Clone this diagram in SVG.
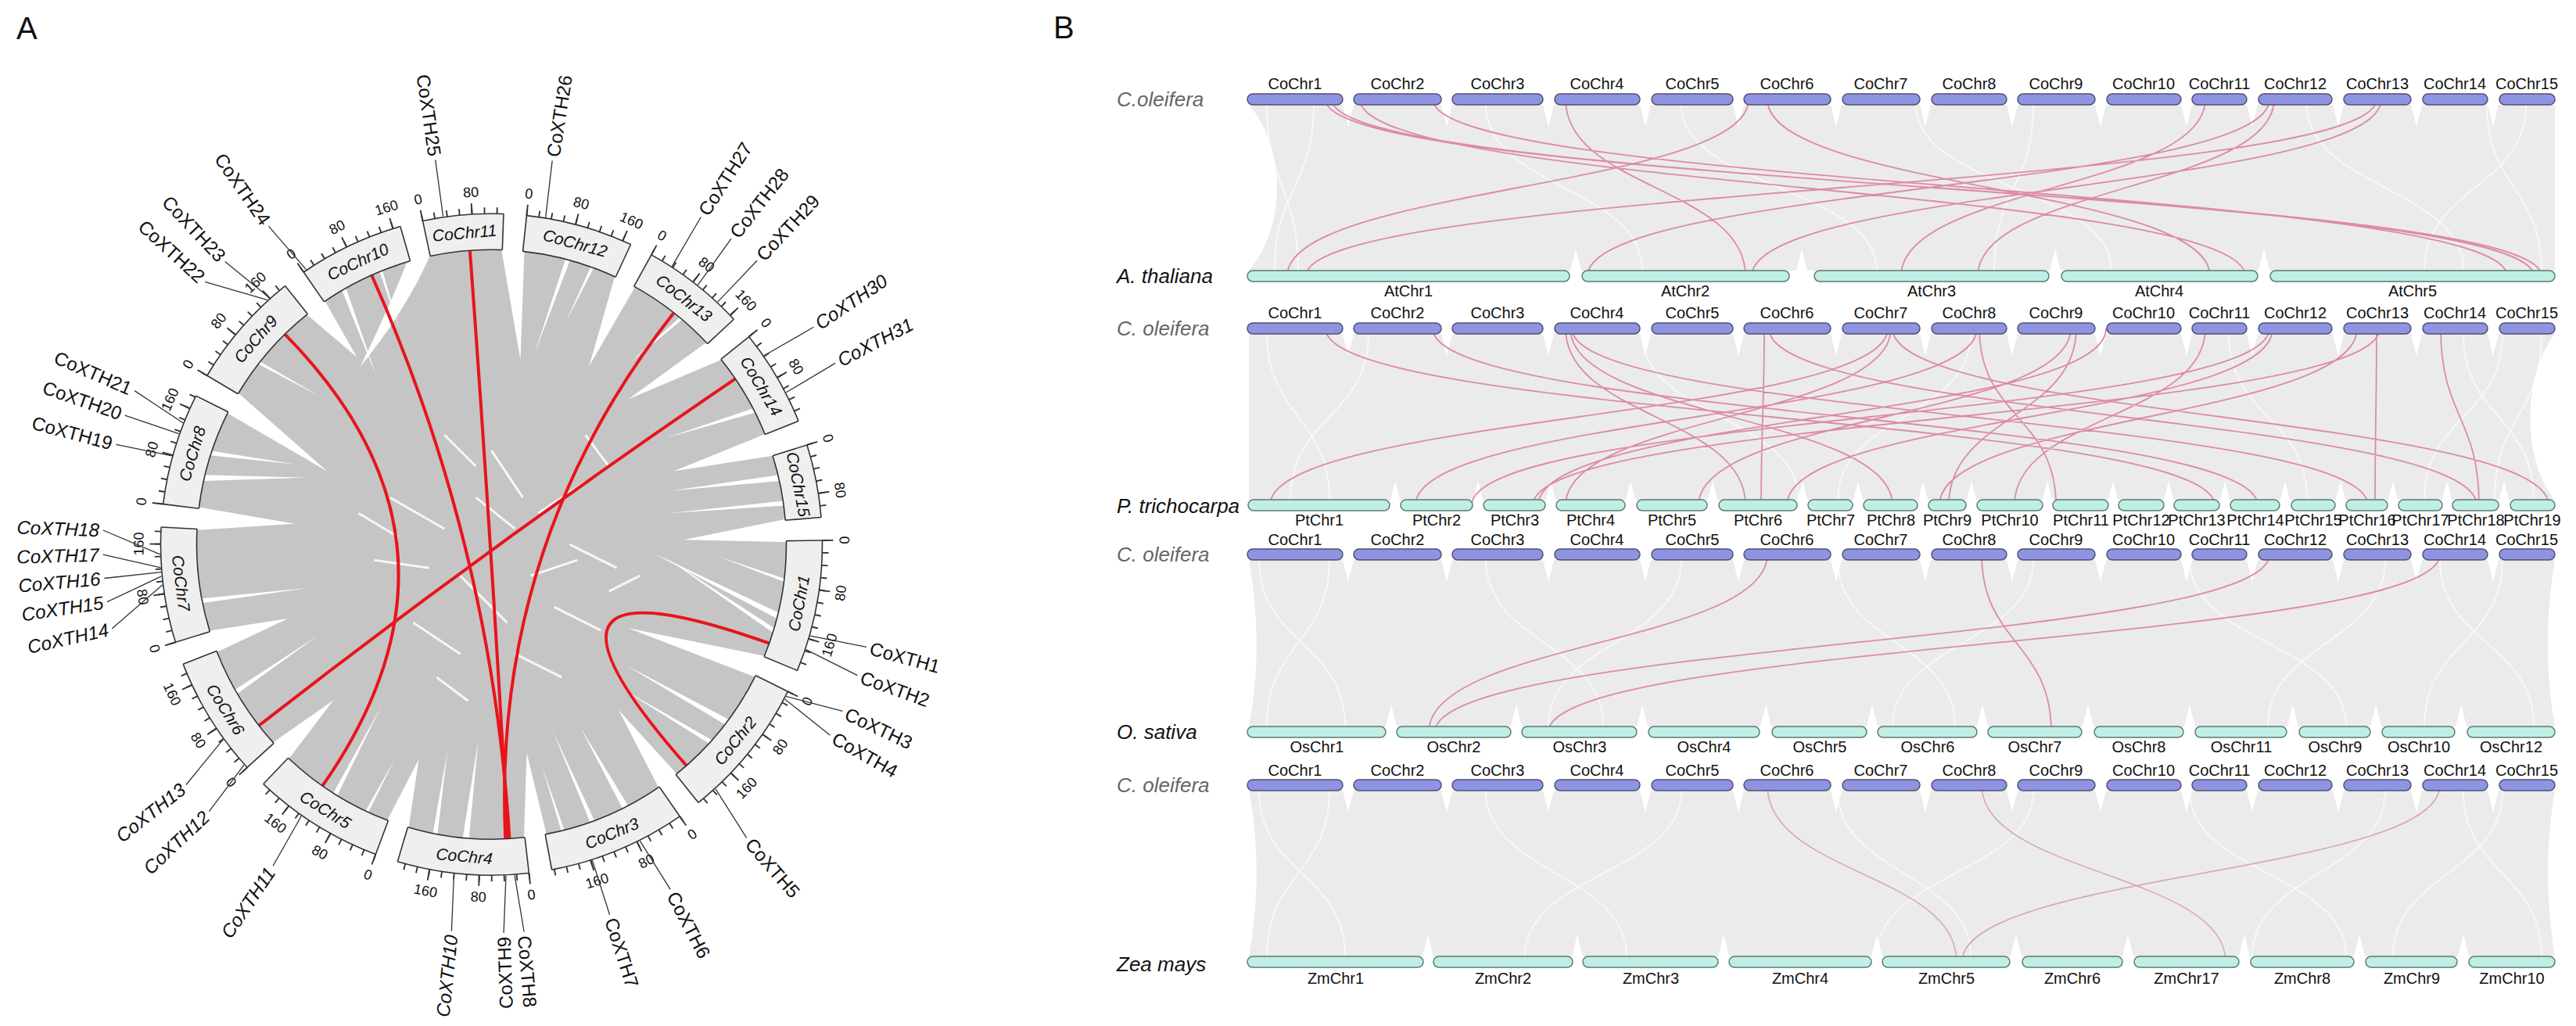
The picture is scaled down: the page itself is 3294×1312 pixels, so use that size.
<svg xmlns="http://www.w3.org/2000/svg" width="3294" height="1312" viewBox="0 0 3294 1312">
<style>
text{font-family:"Liberation Sans",Arial,sans-serif;fill:#111}
.bx{fill:none;stroke:#efefef;stroke-width:46}
.ed{fill:none;stroke:#333;stroke-width:1.6}
.tk{fill:none;stroke:#333;stroke-width:8}
.tkm{fill:none;stroke:#333;stroke-width:14}
.t{font-size:18px;text-anchor:middle;dominant-baseline:central}
.c{font-size:21px;font-style:italic;text-anchor:middle;dominant-baseline:central}
.g{font-size:24px;dominant-baseline:central}
.gr{text-anchor:start}
.gl{text-anchor:end}
.it{font-style:italic}
.ld{stroke:#333;stroke-width:1.3;fill:none}
.red{fill:none;stroke:#e8141c;stroke-width:4}
.wg{fill:#fff}
.wl{fill:none;stroke:#fff;stroke-width:3;opacity:.85}
.band{fill:#ebebeb}
.tex{fill:none;stroke:#fff;stroke-width:2;opacity:.6}
.pk{fill:none;stroke:#dd8aab;stroke-width:1.8}
.pk2{fill:none;stroke:#d9a6b9;stroke-width:1.6}
.bco{fill:#8e93e2;stroke:#50506e;stroke-width:1.5}
.bcy{fill:#bfeee4;stroke:#5c7a74;stroke-width:1.5}
.bl{font-size:20px;text-anchor:middle}
.sp{font-size:26px;font-style:italic}
.spc{fill:#666}
.pl{font-size:40px}
</style>

<text class="pl" x="21" y="50">A</text>
<text class="pl" x="1347" y="49">B</text>

<g id="circos" transform="translate(628.5 696.2)">
  <g id="ribbons">
    <circle r="377" fill="#c5c5c5"/>
    <path class="wg" transform="rotate(87.3)" d="M-15 -380 L5.6 -245.9 L15 -380Z"/>
    <path class="wg" transform="rotate(114.4)" d="M-15 -380 L25.3 -203.4 L15 -380Z"/>
    <path class="wg" transform="rotate(143.3)" d="M-15 -380 L-3.7 -267 L15 -380Z"/>
    <path class="wg" transform="rotate(171.5)" d="M-15 -380 L-5.2 -270 L15 -380Z"/>
    <path class="wg" transform="rotate(198.5)" d="M-15 -380 L1 -290 L15 -380Z"/>
    <path class="wg" transform="rotate(225.6)" d="M-15 -380 L-1 -284 L15 -380Z"/>
    <path class="wg" transform="rotate(250.8)" d="M-15 -380 L-3.9 -277 L15 -380Z"/>
    <path class="wg" transform="rotate(275)" d="M-15 -380 L4.4 -253 L15 -380Z"/>
    <path class="wg" transform="rotate(298.7)" d="M-15 -380 L-18.8 -229 L15 -380Z"/>
    <path class="wg" transform="rotate(323.4)" d="M-15 -380 L4.6 -295 L15 -380Z"/>
    <path class="wg" transform="rotate(346)" d="M-15 -380 Q-50 -330 -108 -261 Q-30 -320 15 -380Z"/>
    <path class="wg" transform="rotate(4.1)" d="M-15 -380 L20 -238 L15 -380Z"/>
    <path class="wg" transform="rotate(26.9)" d="M-15 -380 L8.2 -260 L15 -380Z"/>
    <path class="wg" transform="rotate(49.1)" d="M-15 -380 L-25.8 -254 L15 -380Z"/>
    <path class="wg" transform="rotate(70.3)" d="M-15 -380 L-9.6 -251 L15 -380Z"/>
    <path class="wg" transform="rotate(283)" d="M-4 -378 L30 -250 L4 -378Z"/>
    <path class="wg" transform="rotate(288)" d="M-3 -378 L20 -270 L3 -378Z"/>
    <path class="wg" transform="rotate(259)" d="M-3 -378 L-10 -240 L3 -378Z"/>
    <path class="wg" transform="rotate(104)" d="M-4 -378 L-40 -200 L4 -378Z"/>
    <path class="wg" transform="rotate(107)" d="M-3 -378 L-50 -215 L3 -378Z"/>
    <path class="wg" transform="rotate(127)" d="M-4 -378 L20 -230 L4 -378Z"/>
    <path class="wg" transform="rotate(132)" d="M-3 -378 L25 -250 L3 -378Z"/>
    <path class="wg" transform="rotate(153)" d="M-4 -378 L5 -260 L4 -378Z"/>
    <path class="wg" transform="rotate(160)" d="M-3 -378 L8 -250 L3 -378Z"/>
    <path class="wg" transform="rotate(185)" d="M-4 -378 L-5 -250 L4 -378Z"/>
    <path class="wg" transform="rotate(191)" d="M-3 -378 L5 -270 L3 -378Z"/>
    <path class="wg" transform="rotate(212)" d="M-3 -378 L10 -250 L3 -378Z"/>
    <path class="wg" transform="rotate(330)" d="M-3 -378 L-20 -260 L3 -378Z"/>
    <path class="wg" transform="rotate(15)" d="M-3 -378 L-10 -250 L3 -378Z"/>
    <path class="wg" transform="rotate(77)" d="M-4 -378 L-15 -240 L4 -378Z"/>
    <path class="wg" transform="rotate(82)" d="M-3 -378 L-8 -230 L3 -378Z"/>
    <path class="wg" transform="rotate(63)" d="M-3 -378 L-20 -260 L3 -378Z"/>
    <path class="wg" transform="rotate(240)" d="M-3 -378 L10 -250 L3 -378Z"/>
    <path class="wg" transform="rotate(166)" d="M-2 -378 L6 -290 L2 -378Z"/>
    <path class="wg" transform="rotate(205)" d="M-2 -378 L-4 -300 L2 -378Z"/>
    <path class="wg" transform="rotate(308)" d="M-2 -378 L14 -290 L2 -378Z"/>
    <path class="wg" transform="rotate(338)" d="M-2 -378 L-6 -300 L2 -378Z"/>
    <path class="wg" transform="rotate(20)" d="M-2 -378 L-8 -300 L2 -378Z"/>
    <path class="wg" transform="rotate(40)" d="M-2 -378 L-14 -290 L2 -378Z"/>
    <path class="wg" transform="rotate(97)" d="M-2 -378 L-20 -290 L2 -378Z"/>
    <path class="wl" d="M-130 -60 L-60 -20 M-40 40 L20 100 M60 -40 L120 -80 M80 80 L140 110 M-100 100 L-40 140 M0 -120 L40 -60 M-150 20 L-80 30 M100 0 L160 30 M-20 -60 L30 -20 M-60 -140 L-20 -100 M120 -140 L150 -100 M30 140 L90 170 M-170 -40 L-120 -10 M150 60 L190 40 M-70 170 L-30 200 M50 40 L110 20"/>
  </g>
  <g id="links">
    <path class="red" d="M-264.2 -268.9 Q0 0 -216.2 308.8"/>
    <path class="red" d="M-153.3 -344.4 Q0 0 23 376.3"/>
    <path class="red" d="M-27.6 -376 Q0 0 21 376.4"/>
    <path class="red" d="M233.1 -296.3 Q0 0 17.8 376.6"/>
    <path class="red" d="M311.8 -211.9 Q0 0 -297.5 231.6"/>
    <path class="red" d="M355.2 126.5 Q0 0 249.3 282.8"/>
  </g>

  <g id="chr1"><g transform="rotate(-0.7)"><circle r="400" class="bx" pathLength="360" stroke-dasharray="23.1 400"/><circle r="423" class="ed" pathLength="360" stroke-dasharray="23.1 400"/><circle r="377" class="ed" pathLength="360" stroke-dasharray="23.1 400"/></g><line class="ed" y1="-377" y2="-423" transform="rotate(89.3)"/><line class="ed" y1="-377" y2="-423" transform="rotate(112.4)"/>
    <circle r="427" class="tk" transform="rotate(-0.825)" pathLength="360" stroke-dasharray="0.25 1.91 0.25 1.91 0.25 1.91 0.25 1.91 0.25 1.91 0.25 1.91 0.25 1.91 0.25 1.91 0.25 1.91 0.25 1.91 0.25 400"/>
    <circle r="430" class="tkm" transform="rotate(-0.825)" pathLength="360" stroke-dasharray="0.25 8.39 0.25 8.39 0.25 400"/>
    <text class="t" transform="rotate(89.3) translate(0,-451)">0</text><text class="t" transform="rotate(97.94) translate(0,-451) rotate(180)">80</text><text class="t" transform="rotate(106.58) translate(0,-451) rotate(180)">160</text>
    <text class="c" transform="rotate(100.85) translate(0,-400) rotate(180)">CoChr1</text></g>

  <g id="chr2"><g transform="rotate(26.4)"><circle r="400" class="bx" pathLength="360" stroke-dasharray="24.9 400"/><circle r="423" class="ed" pathLength="360" stroke-dasharray="24.9 400"/><circle r="377" class="ed" pathLength="360" stroke-dasharray="24.9 400"/></g><line class="ed" y1="-377" y2="-423" transform="rotate(116.4)"/><line class="ed" y1="-377" y2="-423" transform="rotate(141.3)"/>
    <circle r="427" class="tk" transform="rotate(26.275)" pathLength="360" stroke-dasharray="0.25 1.91 0.25 1.91 0.25 1.91 0.25 1.91 0.25 1.91 0.25 1.91 0.25 1.91 0.25 1.91 0.25 1.91 0.25 1.91 0.25 1.91 0.25 400"/>
    <circle r="430" class="tkm" transform="rotate(26.275)" pathLength="360" stroke-dasharray="0.25 8.39 0.25 8.39 0.25 400"/>
    <text class="t" transform="rotate(116.4) translate(0,-451) rotate(180)">0</text><text class="t" transform="rotate(125.04) translate(0,-451) rotate(180)">80</text><text class="t" transform="rotate(133.68) translate(0,-451) rotate(180)">160</text>
    <text class="c" transform="rotate(128.85) translate(0,-400) rotate(180)">CoChr2</text></g>

  <g id="chr3"><g transform="rotate(55.3)"><circle r="400" class="bx" pathLength="360" stroke-dasharray="24.2 400"/><circle r="423" class="ed" pathLength="360" stroke-dasharray="24.2 400"/><circle r="377" class="ed" pathLength="360" stroke-dasharray="24.2 400"/></g><line class="ed" y1="-377" y2="-423" transform="rotate(145.3)"/><line class="ed" y1="-377" y2="-423" transform="rotate(169.5)"/>
    <circle r="427" class="tk" transform="rotate(55.175)" pathLength="360" stroke-dasharray="0.25 1.91 0.25 1.91 0.25 1.91 0.25 1.91 0.25 1.91 0.25 1.91 0.25 1.91 0.25 1.91 0.25 1.91 0.25 1.91 0.25 1.91 0.25 400"/>
    <circle r="430" class="tkm" transform="rotate(55.175)" pathLength="360" stroke-dasharray="0.25 8.39 0.25 8.39 0.25 400"/>
    <text class="t" transform="rotate(145.3) translate(0,-451) rotate(180)">0</text><text class="t" transform="rotate(153.94) translate(0,-451) rotate(180)">80</text><text class="t" transform="rotate(162.58) translate(0,-451) rotate(180)">160</text>
    <text class="c" transform="rotate(157.4) translate(0,-400) rotate(180)">CoChr3</text></g>

  <g id="chr4"><g transform="rotate(83.5)"><circle r="400" class="bx" pathLength="360" stroke-dasharray="23 400"/><circle r="423" class="ed" pathLength="360" stroke-dasharray="23 400"/><circle r="377" class="ed" pathLength="360" stroke-dasharray="23 400"/></g><line class="ed" y1="-377" y2="-423" transform="rotate(173.5)"/><line class="ed" y1="-377" y2="-423" transform="rotate(196.5)"/>
    <circle r="427" class="tk" transform="rotate(83.375)" pathLength="360" stroke-dasharray="0.25 1.91 0.25 1.91 0.25 1.91 0.25 1.91 0.25 1.91 0.25 1.91 0.25 1.91 0.25 1.91 0.25 1.91 0.25 1.91 0.25 400"/>
    <circle r="430" class="tkm" transform="rotate(83.375)" pathLength="360" stroke-dasharray="0.25 8.39 0.25 8.39 0.25 400"/>
    <text class="t" transform="rotate(173.5) translate(0,-451) rotate(180)">0</text><text class="t" transform="rotate(182.14) translate(0,-451) rotate(180)">80</text><text class="t" transform="rotate(190.78) translate(0,-451) rotate(180)">160</text>
    <text class="c" transform="rotate(185) translate(0,-400) rotate(180)">CoChr4</text></g>

  <g id="chr5"><g transform="rotate(110.5)"><circle r="400" class="bx" pathLength="360" stroke-dasharray="23.1 400"/><circle r="423" class="ed" pathLength="360" stroke-dasharray="23.1 400"/><circle r="377" class="ed" pathLength="360" stroke-dasharray="23.1 400"/></g><line class="ed" y1="-377" y2="-423" transform="rotate(200.5)"/><line class="ed" y1="-377" y2="-423" transform="rotate(223.6)"/>
    <circle r="427" class="tk" transform="rotate(110.375)" pathLength="360" stroke-dasharray="0.25 1.91 0.25 1.91 0.25 1.91 0.25 1.91 0.25 1.91 0.25 1.91 0.25 1.91 0.25 1.91 0.25 1.91 0.25 1.91 0.25 400"/>
    <circle r="430" class="tkm" transform="rotate(110.375)" pathLength="360" stroke-dasharray="0.25 8.39 0.25 8.39 0.25 400"/>
    <text class="t" transform="rotate(200.5) translate(0,-451) rotate(180)">0</text><text class="t" transform="rotate(209.14) translate(0,-451) rotate(180)">80</text><text class="t" transform="rotate(217.78) translate(0,-451) rotate(180)">160</text>
    <text class="c" transform="rotate(212.05) translate(0,-400) rotate(180)">CoChr5</text></g>

  <g id="chr6"><g transform="rotate(137.6)"><circle r="400" class="bx" pathLength="360" stroke-dasharray="21.2 400"/><circle r="423" class="ed" pathLength="360" stroke-dasharray="21.2 400"/><circle r="377" class="ed" pathLength="360" stroke-dasharray="21.2 400"/></g><line class="ed" y1="-377" y2="-423" transform="rotate(227.6)"/><line class="ed" y1="-377" y2="-423" transform="rotate(248.8)"/>
    <circle r="427" class="tk" transform="rotate(137.475)" pathLength="360" stroke-dasharray="0.25 1.91 0.25 1.91 0.25 1.91 0.25 1.91 0.25 1.91 0.25 1.91 0.25 1.91 0.25 1.91 0.25 1.91 0.25 400"/>
    <circle r="430" class="tkm" transform="rotate(137.475)" pathLength="360" stroke-dasharray="0.25 8.39 0.25 8.39 0.25 400"/>
    <text class="t" transform="rotate(227.6) translate(0,-451) rotate(180)">0</text><text class="t" transform="rotate(236.24) translate(0,-451) rotate(180)">80</text><text class="t" transform="rotate(244.88) translate(0,-451) rotate(180)">160</text>
    <text class="c" transform="rotate(238.2) translate(0,-400) rotate(180)">CoChr6</text></g>

  <g id="chr7"><g transform="rotate(162.8)"><circle r="400" class="bx" pathLength="360" stroke-dasharray="20.2 400"/><circle r="423" class="ed" pathLength="360" stroke-dasharray="20.2 400"/><circle r="377" class="ed" pathLength="360" stroke-dasharray="20.2 400"/></g><line class="ed" y1="-377" y2="-423" transform="rotate(252.8)"/><line class="ed" y1="-377" y2="-423" transform="rotate(273)"/>
    <circle r="427" class="tk" transform="rotate(162.675)" pathLength="360" stroke-dasharray="0.25 1.91 0.25 1.91 0.25 1.91 0.25 1.91 0.25 1.91 0.25 1.91 0.25 1.91 0.25 1.91 0.25 1.91 0.25 400"/>
    <circle r="430" class="tkm" transform="rotate(162.675)" pathLength="360" stroke-dasharray="0.25 8.39 0.25 8.39 0.25 400"/>
    <text class="t" transform="rotate(252.8) translate(0,-451) rotate(180)">0</text><text class="t" transform="rotate(261.44) translate(0,-451) rotate(180)">80</text><text class="t" transform="rotate(270.08) translate(0,-451)">160</text>
    <text class="c" transform="rotate(262.9) translate(0,-400) rotate(180)">CoChr7</text></g>

  <g id="chr8"><g transform="rotate(187)"><circle r="400" class="bx" pathLength="360" stroke-dasharray="19.7 400"/><circle r="423" class="ed" pathLength="360" stroke-dasharray="19.7 400"/><circle r="377" class="ed" pathLength="360" stroke-dasharray="19.7 400"/></g><line class="ed" y1="-377" y2="-423" transform="rotate(277)"/><line class="ed" y1="-377" y2="-423" transform="rotate(296.7)"/>
    <circle r="427" class="tk" transform="rotate(186.875)" pathLength="360" stroke-dasharray="0.25 1.91 0.25 1.91 0.25 1.91 0.25 1.91 0.25 1.91 0.25 1.91 0.25 1.91 0.25 1.91 0.25 1.91 0.25 400"/>
    <circle r="430" class="tkm" transform="rotate(186.875)" pathLength="360" stroke-dasharray="0.25 8.39 0.25 8.39 0.25 400"/>
    <text class="t" transform="rotate(277) translate(0,-451)">0</text><text class="t" transform="rotate(285.64) translate(0,-451)">80</text><text class="t" transform="rotate(294.28) translate(0,-451)">160</text>
    <text class="c" transform="rotate(286.85) translate(0,-400)">CoChr8</text></g>

  <g id="chr9"><g transform="rotate(210.7)"><circle r="400" class="bx" pathLength="360" stroke-dasharray="20.7 400"/><circle r="423" class="ed" pathLength="360" stroke-dasharray="20.7 400"/><circle r="377" class="ed" pathLength="360" stroke-dasharray="20.7 400"/></g><line class="ed" y1="-377" y2="-423" transform="rotate(300.7)"/><line class="ed" y1="-377" y2="-423" transform="rotate(321.4)"/>
    <circle r="427" class="tk" transform="rotate(210.575)" pathLength="360" stroke-dasharray="0.25 1.91 0.25 1.91 0.25 1.91 0.25 1.91 0.25 1.91 0.25 1.91 0.25 1.91 0.25 1.91 0.25 1.91 0.25 400"/>
    <circle r="430" class="tkm" transform="rotate(210.575)" pathLength="360" stroke-dasharray="0.25 8.39 0.25 8.39 0.25 400"/>
    <text class="t" transform="rotate(300.7) translate(0,-451)">0</text><text class="t" transform="rotate(309.34) translate(0,-451)">80</text><text class="t" transform="rotate(317.98) translate(0,-451)">160</text>
    <text class="c" transform="rotate(311.05) translate(0,-400)">CoChr9</text></g>

  <g id="chr10"><g transform="rotate(235.4)"><circle r="400" class="bx" pathLength="360" stroke-dasharray="18.6 400"/><circle r="423" class="ed" pathLength="360" stroke-dasharray="18.6 400"/><circle r="377" class="ed" pathLength="360" stroke-dasharray="18.6 400"/></g><line class="ed" y1="-377" y2="-423" transform="rotate(325.4)"/><line class="ed" y1="-377" y2="-423" transform="rotate(344)"/>
    <circle r="427" class="tk" transform="rotate(235.275)" pathLength="360" stroke-dasharray="0.25 1.91 0.25 1.91 0.25 1.91 0.25 1.91 0.25 1.91 0.25 1.91 0.25 1.91 0.25 1.91 0.25 400"/>
    <circle r="430" class="tkm" transform="rotate(235.275)" pathLength="360" stroke-dasharray="0.25 8.39 0.25 8.39 0.25 400"/>
    <text class="t" transform="rotate(325.4) translate(0,-451)">0</text><text class="t" transform="rotate(334.04) translate(0,-451)">80</text><text class="t" transform="rotate(342.68) translate(0,-451)">160</text>
    <text class="c" transform="rotate(334.7) translate(0,-400)">CoChr10</text></g>

  <g id="chr11"><g transform="rotate(258)"><circle r="400" class="bx" pathLength="360" stroke-dasharray="14.1 400"/><circle r="423" class="ed" pathLength="360" stroke-dasharray="14.1 400"/><circle r="377" class="ed" pathLength="360" stroke-dasharray="14.1 400"/></g><line class="ed" y1="-377" y2="-423" transform="rotate(348)"/><line class="ed" y1="-377" y2="-423" transform="rotate(362.1)"/>
    <circle r="427" class="tk" transform="rotate(257.875)" pathLength="360" stroke-dasharray="0.25 1.91 0.25 1.91 0.25 1.91 0.25 1.91 0.25 1.91 0.25 1.91 0.25 400"/>
    <circle r="430" class="tkm" transform="rotate(257.875)" pathLength="360" stroke-dasharray="0.25 8.39 0.25 400"/>
    <text class="t" transform="rotate(348) translate(0,-451)">0</text><text class="t" transform="rotate(356.64) translate(0,-451)">80</text>
    <text class="c" transform="rotate(355.05) translate(0,-400)">CoChr11</text></g>

  <g id="chr12"><g transform="rotate(-83.9)"><circle r="400" class="bx" pathLength="360" stroke-dasharray="18.8 400"/><circle r="423" class="ed" pathLength="360" stroke-dasharray="18.8 400"/><circle r="377" class="ed" pathLength="360" stroke-dasharray="18.8 400"/></g><line class="ed" y1="-377" y2="-423" transform="rotate(6.1)"/><line class="ed" y1="-377" y2="-423" transform="rotate(24.9)"/>
    <circle r="427" class="tk" transform="rotate(-84.025)" pathLength="360" stroke-dasharray="0.25 1.91 0.25 1.91 0.25 1.91 0.25 1.91 0.25 1.91 0.25 1.91 0.25 1.91 0.25 1.91 0.25 400"/>
    <circle r="430" class="tkm" transform="rotate(-84.025)" pathLength="360" stroke-dasharray="0.25 8.39 0.25 8.39 0.25 400"/>
    <text class="t" transform="rotate(6.1) translate(0,-451)">0</text><text class="t" transform="rotate(14.74) translate(0,-451)">80</text><text class="t" transform="rotate(23.38) translate(0,-451)">160</text>
    <text class="c" transform="rotate(15.5) translate(0,-400)">CoChr12</text></g>

  <g id="chr13"><g transform="rotate(-61.1)"><circle r="400" class="bx" pathLength="360" stroke-dasharray="18.2 400"/><circle r="423" class="ed" pathLength="360" stroke-dasharray="18.2 400"/><circle r="377" class="ed" pathLength="360" stroke-dasharray="18.2 400"/></g><line class="ed" y1="-377" y2="-423" transform="rotate(28.9)"/><line class="ed" y1="-377" y2="-423" transform="rotate(47.1)"/>
    <circle r="427" class="tk" transform="rotate(-61.225)" pathLength="360" stroke-dasharray="0.25 1.91 0.25 1.91 0.25 1.91 0.25 1.91 0.25 1.91 0.25 1.91 0.25 1.91 0.25 1.91 0.25 400"/>
    <circle r="430" class="tkm" transform="rotate(-61.225)" pathLength="360" stroke-dasharray="0.25 8.39 0.25 8.39 0.25 400"/>
    <text class="t" transform="rotate(28.9) translate(0,-451)">0</text><text class="t" transform="rotate(37.54) translate(0,-451)">80</text><text class="t" transform="rotate(46.18) translate(0,-451)">160</text>
    <text class="c" transform="rotate(38) translate(0,-400)">CoChr13</text></g>

  <g id="chr14"><g transform="rotate(-38.9)"><circle r="400" class="bx" pathLength="360" stroke-dasharray="17 400"/><circle r="423" class="ed" pathLength="360" stroke-dasharray="17 400"/><circle r="377" class="ed" pathLength="360" stroke-dasharray="17 400"/></g><line class="ed" y1="-377" y2="-423" transform="rotate(51.1)"/><line class="ed" y1="-377" y2="-423" transform="rotate(68.1)"/>
    <circle r="427" class="tk" transform="rotate(-39.025)" pathLength="360" stroke-dasharray="0.25 1.91 0.25 1.91 0.25 1.91 0.25 1.91 0.25 1.91 0.25 1.91 0.25 1.91 0.25 400"/>
    <circle r="430" class="tkm" transform="rotate(-39.025)" pathLength="360" stroke-dasharray="0.25 8.39 0.25 400"/>
    <text class="t" transform="rotate(51.1) translate(0,-451)">0</text><text class="t" transform="rotate(59.74) translate(0,-451)">80</text>
    <text class="c" transform="rotate(59.6) translate(0,-400)">CoChr14</text></g>

  <g id="chr15"><g transform="rotate(-17.5)"><circle r="400" class="bx" pathLength="360" stroke-dasharray="12.8 400"/><circle r="423" class="ed" pathLength="360" stroke-dasharray="12.8 400"/><circle r="377" class="ed" pathLength="360" stroke-dasharray="12.8 400"/></g><line class="ed" y1="-377" y2="-423" transform="rotate(72.5)"/><line class="ed" y1="-377" y2="-423" transform="rotate(85.3)"/>
    <circle r="427" class="tk" transform="rotate(-17.625)" pathLength="360" stroke-dasharray="0.25 1.91 0.25 1.91 0.25 1.91 0.25 1.91 0.25 1.91 0.25 400"/>
    <circle r="430" class="tkm" transform="rotate(-17.625)" pathLength="360" stroke-dasharray="0.25 8.39 0.25 400"/>
    <text class="t" transform="rotate(72.5) translate(0,-451)">0</text><text class="t" transform="rotate(81.14) translate(0,-451)">80</text>
    <text class="c" transform="rotate(78.9) translate(0,-400)">CoChr15</text></g>

  <g id="leaders">
    <path class="ld" d="M407.6 116.9 L479.4 131.2 M402.1 134.5 L467.9 167.5 M376.8 194.4 L448.9 213.2 M375.1 197.8 L433 244 M286.5 312.6 L326.1 375.1 M189.9 379.1 L228.7 441.2 M128.9 403.9 L151.1 473.5 M29.6 423 L41.6 495.3 M18.5 423.6 L15.6 496.8 M-48 421.3 L-51.1 494.4 M-243.2 347.3 L-279.4 411.1 M-316.6 282.1 L-361.1 341.5 M-343 249.2 L-390.6 307.3 M-420.8 51.7 L-485.2 107.6 M-422 40.6 L-491.5 73.5 M-422.5 35.5 L-495.1 43.3 M-423 29.6 L-496.9 13 M-423.8 12.6 L-496.7 -18.2 M-408.6 -113.3 L-480.3 -127.8 M-399.7 -141.5 L-468.8 -165.1 M-394.5 -155.4 L-456.4 -196.6 M-286.5 -312.6 L-366.4 -335.8 M-283.7 -315.1 L-340.8 -361.7 M-237.1 -351.5 L-285.1 -407.1 M-61.9 -419.5 L-71.8 -491.8 M69.2 -418.3 L77.7 -490.9 M230.9 -355.6 L267.8 -418.7 M263.9 -331.8 L306.6 -391.1 M289.2 -310.1 L339.6 -362.9 M348.6 -241.4 L412 -277.9 M376.8 -194.4 L439.6 -231.8"/>
  </g>
  <g id="genes">
    <text class="g gr" transform="rotate(105.3) translate(0,-502) rotate(-90)">CoXTH1</text>
    <text class="g gr" transform="rotate(109.7) translate(0,-502) rotate(-90)">CoXTH2</text>
    <text class="g gr" transform="rotate(115.4) translate(0,-502) rotate(-90)">CoXTH3</text>
    <text class="g gr" transform="rotate(119.4) translate(0,-502) rotate(-90)">CoXTH4</text>
    <text class="g gr" transform="rotate(139) translate(0,-502) rotate(-90)">CoXTH5</text>
    <text class="g gr" transform="rotate(152.6) translate(0,-502) rotate(-90)">CoXTH6</text>
    <text class="g gr" transform="rotate(162.3) translate(0,-502) rotate(-90)">CoXTH7</text>
    <text class="g gr" transform="rotate(175.2) translate(0,-502) rotate(-90)">CoXTH8</text>
    <text class="g gl" transform="rotate(178.2) translate(0,-502) rotate(90)">CoXTH9</text>
    <text class="g gl it" transform="rotate(185.9) translate(0,-502) rotate(90)">CoXTH10</text>
    <text class="g gl it" transform="rotate(214.2) translate(0,-502) rotate(90)">CoXTH11</text>
    <text class="g gl it" transform="rotate(226.6) translate(0,-502) rotate(90)">CoXTH12</text>
    <text class="g gl it" transform="rotate(231.8) translate(0,-502) rotate(90)">CoXTH13</text>
    <text class="g gl it" transform="rotate(257.5) translate(0,-502) rotate(90)">CoXTH14</text>
    <text class="g gl it" transform="rotate(261.5) translate(0,-502) rotate(90)">CoXTH15</text>
    <text class="g gl it" transform="rotate(265) translate(0,-502) rotate(90)">CoXTH16</text>
    <text class="g gl it" transform="rotate(268.5) translate(0,-502) rotate(90)">CoXTH17</text>
    <text class="g gl it" transform="rotate(272.1) translate(0,-502) rotate(90)">CoXTH18</text>
    <text class="g gl" transform="rotate(284.9) translate(0,-502) rotate(90)">CoXTH19</text>
    <text class="g gl" transform="rotate(289.4) translate(0,-502) rotate(90)">CoXTH20</text>
    <text class="g gl" transform="rotate(293.3) translate(0,-502) rotate(90)">CoXTH21</text>
    <text class="g gl" transform="rotate(312.5) translate(0,-502) rotate(90)">CoXTH22</text>
    <text class="g gl" transform="rotate(316.7) translate(0,-502) rotate(90)">CoXTH23</text>
    <text class="g gl" transform="rotate(325) translate(0,-502) rotate(90)">CoXTH24</text>
    <text class="g gl" transform="rotate(351.7) translate(0,-502) rotate(90)">CoXTH25</text>
    <text class="g gr" transform="rotate(9) translate(0,-502) rotate(-90)">CoXTH26</text>
    <text class="g gr" transform="rotate(32.6) translate(0,-502) rotate(-90)">CoXTH27</text>
    <text class="g gr" transform="rotate(38.1) translate(0,-502) rotate(-90)">CoXTH28</text>
    <text class="g gr" transform="rotate(43.1) translate(0,-502) rotate(-90)">CoXTH29</text>
    <text class="g gr it" transform="rotate(56) translate(0,-502) rotate(-90)">CoXTH30</text>
    <text class="g gr it" transform="rotate(62.2) translate(0,-502) rotate(-90)">CoXTH31</text>
  </g>
</g>

<g id="synteny">
  <g id="bands">
    <path class="band" d="M1597 134 H3267 V346 H1597 C1645 290 1645 190 1597 134Z"/>
    <path class="band" d="M1597 427 H3267 C3225 480 3225 590 3267 639 H1597Z"/>
    <path class="band" d="M1597 716 H3267 C3255 790 3255 860 3267 929 H1597 C1610 860 1610 790 1597 716Z"/>
    <path class="band" d="M1597 1011 H3267 C3255 1080 3255 1150 3267 1223 H1597 C1610 1150 1610 1080 1597 1011Z"/>
    <path class="tex" d="M1620 134 C1620 240 1660 240 1660 346 M1900 134 C1900 240 2100 240 2100 346 M2150 134 C2150 240 2400 240 2400 346 M2600 134 C2600 240 2550 240 2550 346 M2950 134 C2950 240 3150 240 3150 346 M3230 134 C3230 240 3100 240 3100 346 M3180 134 C3180 240 3250 240 3250 346 M1680 134 C1680 240 1630 240 1630 346 M2450 134 C2450 240 2700 240 2700 346"/>
    <path class="tex" d="M1620 427 C1620 533 1700 533 1700 639 M1750 427 C1750 533 1650 533 1650 639 M2100 427 C2100 533 2300 533 2300 639 M2520 427 C2520 533 2350 533 2350 639 M2850 427 C2850 533 2950 533 2950 639 M3200 427 C3200 533 3100 533 3100 639 M3150 427 C3150 533 3240 533 3240 639 M3250 427 C3250 533 3190 533 3190 639"/>
    <path class="tex" d="M1610 716 C1610 822 1720 822 1720 929 M1700 716 C1700 822 1620 822 1620 929 M1900 716 C1900 822 2050 822 2050 929 M2150 716 C2150 822 1980 822 1980 929 M2350 716 C2350 822 2500 822 2500 929 M2600 716 C2600 822 2420 822 2420 929 M2800 716 C2800 822 3000 822 3000 929 M3050 716 C3050 822 2900 822 2900 929 M3200 716 C3200 822 3100 822 3100 929 M3120 716 C3120 822 3240 822 3240 929"/>
    <path class="tex" d="M1610 1011 C1610 1117 1720 1117 1720 1223 M1700 1011 C1700 1117 1620 1117 1620 1223 M1900 1011 C1900 1117 2080 1117 2080 1223 M2150 1011 C2150 1117 1950 1117 1950 1223 M2350 1011 C2350 1117 2520 1117 2520 1223 M2600 1011 C2600 1117 2400 1117 2400 1223 M2800 1011 C2800 1117 3000 1117 3000 1223 M3050 1011 C3050 1117 2880 1117 2880 1223 M3200 1011 C3200 1117 3060 1117 3060 1223 M3150 1011 C3150 1117 3250 1117 3250 1223"/>
    <path class="wg" d="M1717 134l7 28l7-28z M1843 134l7 28l7-28z M1973 134l7 28l7-28z M2097 134l7 28l7-28z M2216 134l7 28l7-28z M2341 134l7 28l7-28z M2455 134l7 28l7-28z M2566 134l7 28l7-28z M2679 134l7 28l7-28z M2789 134l7 28l7-28z M2873 134l7 28l7-28z M2983 134l7 28l7-28z M3083 134l7 28l7-28z M3181 134l7 28l7-28z
      M1717 427l7 28l7-28z M1843 427l7 28l7-28z M1973 427l7 28l7-28z M2097 427l7 28l7-28z M2216 427l7 28l7-28z M2341 427l7 28l7-28z M2455 427l7 28l7-28z M2566 427l7 28l7-28z M2679 427l7 28l7-28z M2789 427l7 28l7-28z M2873 427l7 28l7-28z M2983 427l7 28l7-28z M3083 427l7 28l7-28z M3181 427l7 28l7-28z
      M1717 716l7 28l7-28z M1843 716l7 28l7-28z M1973 716l7 28l7-28z M2097 716l7 28l7-28z M2216 716l7 28l7-28z M2341 716l7 28l7-28z M2455 716l7 28l7-28z M2566 716l7 28l7-28z M2679 716l7 28l7-28z M2789 716l7 28l7-28z M2873 716l7 28l7-28z M2983 716l7 28l7-28z M3083 716l7 28l7-28z M3181 716l7 28l7-28z
      M1717 1011l7 28l7-28z M1843 1011l7 28l7-28z M1973 1011l7 28l7-28z M2097 1011l7 28l7-28z M2216 1011l7 28l7-28z M2341 1011l7 28l7-28z M2455 1011l7 28l7-28z M2566 1011l7 28l7-28z M2679 1011l7 28l7-28z M2789 1011l7 28l7-28z M2873 1011l7 28l7-28z M2983 1011l7 28l7-28z M3083 1011l7 28l7-28z M3181 1011l7 28l7-28z
      M2008 346l7-28l7 28z M2297 346l7-28l7 28z M2621 346l7-28l7 28z M2888 346l7-28l7 28z
      M1778 639l6-24l6 24z M1884 639l6-24l6 24z M1977 639l6-24l6 24z M2079 639l6-24l6 24z M2184 639l6-24l6 24z M2299 639l6-24l6 24z M2370 639l6-24l6 24z M2453 639l6-24l6 24z M2515 639l6-24l6 24z M2612 639l6-24l6 24z M2696 639l6-24l6 24z M2767 639l6-24l6 24z M2839 639l6-24l6 24z M2916 639l6-24l6 24z M2987 639l6-24l6 24z M3054 639l6-24l6 24z M3123 639l6-24l6 24z M3196 639l6-24l6 24z
      M1772 929l7-28l7 28z M1932 929l7-28l7 28z M2093 929l7-28l7 28z M2251 929l7-28l7 28z M2387 929l7-28l7 28z M2528 929l7-28l7 28z M2663 929l7-28l7 28z M2793 929l7-28l7 28z M2925 929l7-28l7 28z M3031 929l7-28l7 28z M3140 929l7-28l7 28z
      M1819 1223l7-28l7 28z M2010 1223l7-28l7 28z M2197 1223l7-28l7 28z M2393 1223l7-28l7 28z M2571 1223l7-28l7 28z M2714 1223l7-28l7 28z M2863 1223l7-28l7 28z M3010 1223l7-28l7 28z M3143 1223l7-28l7 28z"/>
  </g>

  <g id="pairs">
    <path class="pk" d="M1695 127 C1695 240 3250 240 3250 353 M1703 127 C1703 240 3240 240 3240 353 M1739 127 C1739 240 2871 240 2871 353 M1832 127 C1832 240 3206 240 3206 353 M2002 127 C2002 240 2232 240 2232 353 M2236 127 C2236 240 1646 240 1646 353 M2260 127 C2260 240 2826 240 2826 353 M2820 127 C2820 240 2431 240 2431 353 M2902 127 C2902 240 2030 240 2030 353 M2908 127 C2908 240 2529 240 2529 353 M3039 127 C3039 240 1670 240 1670 353 M3045 127 C3045 240 2240 240 2240 353"/>
    <path class="pk" d="M1695 420 C1695 533 2832 533 2832 646 M1832 420 C1832 533 2887 533 2887 646 M2002 420 C2002 533 2232 533 2232 646 M2008 420 C2008 533 2420 533 2420 646 M2010 420 C2010 533 3028 533 3028 646 M2256 420 C2256 533 2252 533 2252 646 M2262 420 C2262 533 3167 533 3167 646 M2414 420 C2414 533 1624 533 1624 646 M2418 420 C2418 533 2002 533 2002 646 M2420 420 C2420 533 3259 533 3259 646 M2531 420 C2531 533 2629 533 2629 646 M2528 420 C2528 533 1810 533 1810 646 M2648 420 C2648 533 2172 533 2172 646 M2655 420 C2655 533 2492 533 2492 646 M2693 420 C2693 533 1967 533 1967 646 M2820 420 C2820 533 2576 533 2576 646 M2902 420 C2902 533 1882 533 1882 646 M2906 420 C2906 533 2285 533 2285 646 M3014 420 C3014 533 2480 533 2480 646 M3039 420 C3039 533 3037 533 3037 646 M3043 420 C3043 533 1960 533 1960 646 M3121 420 C3121 533 3170 533 3170 646"/>
    <path class="pk" d="M2260 709 C2260 822 1827 822 1827 936 M2902 709 C2902 822 1835 822 1835 936 M3120 709 C3120 822 1980 822 1980 936 M2534 709 C2534 822 2623 822 2623 936"/>
    <path class="pk2" d="M2260 1004 C2260 1117 2502 1117 2502 1230 M2534 1004 C2534 1117 2846 1117 2846 1230 M3120 1004 C3120 1117 2509 1117 2509 1230"/>
  </g>

  <g id="species">
    <text class="sp spc" x="1428" y="136">C.oleifera</text>
    <text class="sp" x="1428" y="362">A. thaliana</text>
    <text class="sp spc" x="1428" y="429">C. oleifera</text>
    <text class="sp" x="1428" y="656">P. trichocarpa</text>
    <text class="sp spc" x="1428" y="718">C. oleifera</text>
    <text class="sp" x="1428" y="945">O. sativa</text>
    <text class="sp spc" x="1428" y="1013">C. oleifera</text>
    <text class="sp" x="1428" y="1242">Zea mays</text>
  </g>

  <g id="row-co1">
    <rect class="bco" x="1595" y="120" width="122" height="14" rx="7"/><rect class="bco" x="1731" y="120" width="112" height="14" rx="7"/><rect class="bco" x="1857" y="120" width="116" height="14" rx="7"/><rect class="bco" x="1988" y="120" width="109" height="14" rx="7"/><rect class="bco" x="2112" y="120" width="104" height="14" rx="7"/><rect class="bco" x="2230" y="120" width="111" height="14" rx="7"/><rect class="bco" x="2356" y="120" width="99" height="14" rx="7"/><rect class="bco" x="2470" y="120" width="96" height="14" rx="7"/><rect class="bco" x="2580" y="120" width="99" height="14" rx="7"/><rect class="bco" x="2694" y="120" width="95" height="14" rx="7"/><rect class="bco" x="2803" y="120" width="70" height="14" rx="7"/><rect class="bco" x="2888" y="120" width="94" height="14" rx="7"/><rect class="bco" x="2997" y="120" width="86" height="14" rx="7"/><rect class="bco" x="3098" y="120" width="83" height="14" rx="7"/><rect class="bco" x="3196" y="120" width="71" height="14" rx="7"/>
    <text class="bl" x="1656" y="114">CoChr1</text><text class="bl" x="1787" y="114">CoChr2</text><text class="bl" x="1915" y="114">CoChr3</text><text class="bl" x="2042" y="114">CoChr4</text><text class="bl" x="2164" y="114">CoChr5</text><text class="bl" x="2285" y="114">CoChr6</text><text class="bl" x="2405" y="114">CoChr7</text><text class="bl" x="2518" y="114">CoChr8</text><text class="bl" x="2629" y="114">CoChr9</text><text class="bl" x="2741" y="114">CoChr10</text><text class="bl" x="2838" y="114">CoChr11</text><text class="bl" x="2935" y="114">CoChr12</text><text class="bl" x="3040" y="114">CoChr13</text><text class="bl" x="3139" y="114">CoChr14</text><text class="bl" x="3231" y="114">CoChr15</text>
  </g>
  <g id="row-at">
    <rect class="bcy" x="1595" y="346" width="412" height="14" rx="7"/><rect class="bcy" x="2023" y="346" width="265" height="14" rx="7"/><rect class="bcy" x="2320" y="346" width="300" height="14" rx="7"/><rect class="bcy" x="2636" y="346" width="251" height="14" rx="7"/><rect class="bcy" x="2903" y="346" width="364" height="14" rx="7"/>
    <text class="bl" x="1801" y="379">AtChr1</text><text class="bl" x="2155" y="379">AtChr2</text><text class="bl" x="2470" y="379">AtChr3</text><text class="bl" x="2761" y="379">AtChr4</text><text class="bl" x="3085" y="379">AtChr5</text>
  </g>
  <g id="row-co2">
    <rect class="bco" x="1595" y="413" width="122" height="14" rx="7"/><rect class="bco" x="1731" y="413" width="112" height="14" rx="7"/><rect class="bco" x="1857" y="413" width="116" height="14" rx="7"/><rect class="bco" x="1988" y="413" width="109" height="14" rx="7"/><rect class="bco" x="2112" y="413" width="104" height="14" rx="7"/><rect class="bco" x="2230" y="413" width="111" height="14" rx="7"/><rect class="bco" x="2356" y="413" width="99" height="14" rx="7"/><rect class="bco" x="2470" y="413" width="96" height="14" rx="7"/><rect class="bco" x="2580" y="413" width="99" height="14" rx="7"/><rect class="bco" x="2694" y="413" width="95" height="14" rx="7"/><rect class="bco" x="2803" y="413" width="70" height="14" rx="7"/><rect class="bco" x="2888" y="413" width="94" height="14" rx="7"/><rect class="bco" x="2997" y="413" width="86" height="14" rx="7"/><rect class="bco" x="3098" y="413" width="83" height="14" rx="7"/><rect class="bco" x="3196" y="413" width="71" height="14" rx="7"/>
    <text class="bl" x="1656" y="407">CoChr1</text><text class="bl" x="1787" y="407">CoChr2</text><text class="bl" x="1915" y="407">CoChr3</text><text class="bl" x="2042" y="407">CoChr4</text><text class="bl" x="2164" y="407">CoChr5</text><text class="bl" x="2285" y="407">CoChr6</text><text class="bl" x="2405" y="407">CoChr7</text><text class="bl" x="2518" y="407">CoChr8</text><text class="bl" x="2629" y="407">CoChr9</text><text class="bl" x="2741" y="407">CoChr10</text><text class="bl" x="2838" y="407">CoChr11</text><text class="bl" x="2935" y="407">CoChr12</text><text class="bl" x="3040" y="407">CoChr13</text><text class="bl" x="3139" y="407">CoChr14</text><text class="bl" x="3231" y="407">CoChr15</text>
  </g>
  <g id="row-pt">
    <rect class="bcy" x="1596" y="639" width="181" height="14" rx="7"/><rect class="bcy" x="1791" y="639" width="92" height="14" rx="7"/><rect class="bcy" x="1897" y="639" width="79" height="14" rx="7"/><rect class="bcy" x="1990" y="639" width="88" height="14" rx="7"/><rect class="bcy" x="2093" y="639" width="90" height="14" rx="7"/><rect class="bcy" x="2198" y="639" width="100" height="14" rx="7"/><rect class="bcy" x="2312" y="639" width="57" height="14" rx="7"/><rect class="bcy" x="2383" y="639" width="69" height="14" rx="7"/><rect class="bcy" x="2466" y="639" width="48" height="14" rx="7"/><rect class="bcy" x="2528" y="639" width="84" height="14" rx="7"/><rect class="bcy" x="2625" y="639" width="71" height="14" rx="7"/><rect class="bcy" x="2709" y="639" width="58" height="14" rx="7"/><rect class="bcy" x="2780" y="639" width="58" height="14" rx="7"/><rect class="bcy" x="2852" y="639" width="63" height="14" rx="7"/><rect class="bcy" x="2930" y="639" width="56" height="14" rx="7"/><rect class="bcy" x="3000" y="639" width="53" height="14" rx="7"/><rect class="bcy" x="3067" y="639" width="56" height="14" rx="7"/><rect class="bcy" x="3136" y="639" width="59" height="14" rx="7"/><rect class="bcy" x="3210" y="639" width="57" height="14" rx="7"/>
    <text class="bl" x="1687" y="672">PtChr1</text><text class="bl" x="1837" y="672">PtChr2</text><text class="bl" x="1937" y="672">PtChr3</text><text class="bl" x="2034" y="672">PtChr4</text><text class="bl" x="2138" y="672">PtChr5</text><text class="bl" x="2248" y="672">PtChr6</text><text class="bl" x="2341" y="672">PtChr7</text><text class="bl" x="2418" y="672">PtChr8</text><text class="bl" x="2490" y="672">PtChr9</text><text class="bl" x="2570" y="672">PtChr10</text><text class="bl" x="2661" y="672">PtChr11</text><text class="bl" x="2738" y="672">PtChr12</text><text class="bl" x="2809" y="672">PtChr13</text><text class="bl" x="2884" y="672">PtChr14</text><text class="bl" x="2958" y="672">PtChr15</text><text class="bl" x="3027" y="672">PtChr16</text><text class="bl" x="3095" y="672">PtChr17</text><text class="bl" x="3166" y="672">PtChr18</text><text class="bl" x="3238" y="672">PtChr19</text>
  </g>
  <g id="row-co3">
    <rect class="bco" x="1595" y="702" width="122" height="14" rx="7"/><rect class="bco" x="1731" y="702" width="112" height="14" rx="7"/><rect class="bco" x="1857" y="702" width="116" height="14" rx="7"/><rect class="bco" x="1988" y="702" width="109" height="14" rx="7"/><rect class="bco" x="2112" y="702" width="104" height="14" rx="7"/><rect class="bco" x="2230" y="702" width="111" height="14" rx="7"/><rect class="bco" x="2356" y="702" width="99" height="14" rx="7"/><rect class="bco" x="2470" y="702" width="96" height="14" rx="7"/><rect class="bco" x="2580" y="702" width="99" height="14" rx="7"/><rect class="bco" x="2694" y="702" width="95" height="14" rx="7"/><rect class="bco" x="2803" y="702" width="70" height="14" rx="7"/><rect class="bco" x="2888" y="702" width="94" height="14" rx="7"/><rect class="bco" x="2997" y="702" width="86" height="14" rx="7"/><rect class="bco" x="3098" y="702" width="83" height="14" rx="7"/><rect class="bco" x="3196" y="702" width="71" height="14" rx="7"/>
    <text class="bl" x="1656" y="697">CoChr1</text><text class="bl" x="1787" y="697">CoChr2</text><text class="bl" x="1915" y="697">CoChr3</text><text class="bl" x="2042" y="697">CoChr4</text><text class="bl" x="2164" y="697">CoChr5</text><text class="bl" x="2285" y="697">CoChr6</text><text class="bl" x="2405" y="697">CoChr7</text><text class="bl" x="2518" y="697">CoChr8</text><text class="bl" x="2629" y="697">CoChr9</text><text class="bl" x="2741" y="697">CoChr10</text><text class="bl" x="2838" y="697">CoChr11</text><text class="bl" x="2935" y="697">CoChr12</text><text class="bl" x="3040" y="697">CoChr13</text><text class="bl" x="3139" y="697">CoChr14</text><text class="bl" x="3231" y="697">CoChr15</text>
  </g>
  <g id="row-os">
    <rect class="bcy" x="1595" y="929" width="177" height="14" rx="7"/><rect class="bcy" x="1786" y="929" width="146" height="14" rx="7"/><rect class="bcy" x="1946" y="929" width="147" height="14" rx="7"/><rect class="bcy" x="2108" y="929" width="142" height="14" rx="7"/><rect class="bcy" x="2266" y="929" width="121" height="14" rx="7"/><rect class="bcy" x="2401" y="929" width="127" height="14" rx="7"/><rect class="bcy" x="2542" y="929" width="120" height="14" rx="7"/><rect class="bcy" x="2678" y="929" width="114" height="14" rx="7"/><rect class="bcy" x="2807" y="929" width="117" height="14" rx="7"/><rect class="bcy" x="2940" y="929" width="91" height="14" rx="7"/><rect class="bcy" x="3046" y="929" width="93" height="14" rx="7"/><rect class="bcy" x="3155" y="929" width="112" height="14" rx="7"/>
    <text class="bl" x="1684" y="962">OsChr1</text><text class="bl" x="1859" y="962">OsChr2</text><text class="bl" x="2020" y="962">OsChr3</text><text class="bl" x="2179" y="962">OsChr4</text><text class="bl" x="2327" y="962">OsChr5</text><text class="bl" x="2465" y="962">OsChr6</text><text class="bl" x="2602" y="962">OsChr7</text><text class="bl" x="2735" y="962">OsChr8</text><text class="bl" x="2866" y="962">OsChr11</text><text class="bl" x="2986" y="962">OsChr9</text><text class="bl" x="3093" y="962">OsChr10</text><text class="bl" x="3211" y="962">OsChr12</text>
  </g>
  <g id="row-co4">
    <rect class="bco" x="1595" y="997" width="122" height="14" rx="7"/><rect class="bco" x="1731" y="997" width="112" height="14" rx="7"/><rect class="bco" x="1857" y="997" width="116" height="14" rx="7"/><rect class="bco" x="1988" y="997" width="109" height="14" rx="7"/><rect class="bco" x="2112" y="997" width="104" height="14" rx="7"/><rect class="bco" x="2230" y="997" width="111" height="14" rx="7"/><rect class="bco" x="2356" y="997" width="99" height="14" rx="7"/><rect class="bco" x="2470" y="997" width="96" height="14" rx="7"/><rect class="bco" x="2580" y="997" width="99" height="14" rx="7"/><rect class="bco" x="2694" y="997" width="95" height="14" rx="7"/><rect class="bco" x="2803" y="997" width="70" height="14" rx="7"/><rect class="bco" x="2888" y="997" width="94" height="14" rx="7"/><rect class="bco" x="2997" y="997" width="86" height="14" rx="7"/><rect class="bco" x="3098" y="997" width="83" height="14" rx="7"/><rect class="bco" x="3196" y="997" width="71" height="14" rx="7"/>
    <text class="bl" x="1656" y="992">CoChr1</text><text class="bl" x="1787" y="992">CoChr2</text><text class="bl" x="1915" y="992">CoChr3</text><text class="bl" x="2042" y="992">CoChr4</text><text class="bl" x="2164" y="992">CoChr5</text><text class="bl" x="2285" y="992">CoChr6</text><text class="bl" x="2405" y="992">CoChr7</text><text class="bl" x="2518" y="992">CoChr8</text><text class="bl" x="2629" y="992">CoChr9</text><text class="bl" x="2741" y="992">CoChr10</text><text class="bl" x="2838" y="992">CoChr11</text><text class="bl" x="2935" y="992">CoChr12</text><text class="bl" x="3040" y="992">CoChr13</text><text class="bl" x="3139" y="992">CoChr14</text><text class="bl" x="3231" y="992">CoChr15</text>
  </g>
  <g id="row-zm">
    <rect class="bcy" x="1595" y="1223" width="225" height="14" rx="7"/><rect class="bcy" x="1833" y="1223" width="178" height="14" rx="7"/><rect class="bcy" x="2024" y="1223" width="173" height="14" rx="7"/><rect class="bcy" x="2211" y="1223" width="182" height="14" rx="7"/><rect class="bcy" x="2407" y="1223" width="163" height="14" rx="7"/><rect class="bcy" x="2586" y="1223" width="128" height="14" rx="7"/><rect class="bcy" x="2729" y="1223" width="134" height="14" rx="7"/><rect class="bcy" x="2878" y="1223" width="132" height="14" rx="7"/><rect class="bcy" x="3025" y="1223" width="117" height="14" rx="7"/><rect class="bcy" x="3157" y="1223" width="110" height="14" rx="7"/>
    <text class="bl" x="1708" y="1258">ZmChr1</text><text class="bl" x="1922" y="1258">ZmChr2</text><text class="bl" x="2111" y="1258">ZmChr3</text><text class="bl" x="2302" y="1258">ZmChr4</text><text class="bl" x="2489" y="1258">ZmChr5</text><text class="bl" x="2650" y="1258">ZmChr6</text><text class="bl" x="2796" y="1258">ZmChr17</text><text class="bl" x="2944" y="1258">ZmChr8</text><text class="bl" x="3084" y="1258">ZmChr9</text><text class="bl" x="3212" y="1258">ZmChr10</text>
  </g>
</g>
</svg>
